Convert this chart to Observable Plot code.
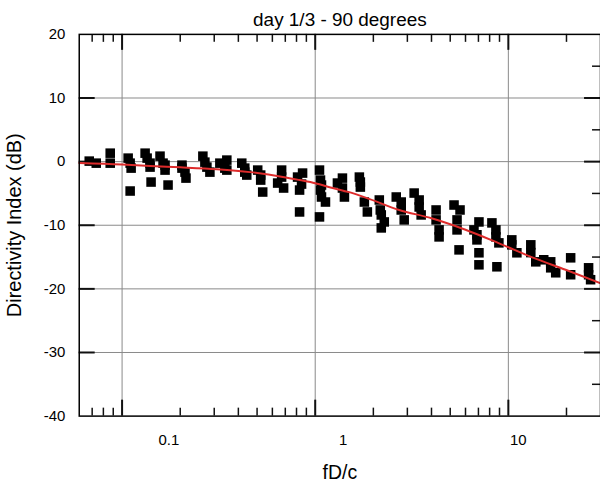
<!DOCTYPE html>
<html><head><meta charset="utf-8">
<script src="https://cdn.jsdelivr.net/npm/d3@7"></script>
<script src="https://cdn.jsdelivr.net/npm/@observablehq/plot@0.6"></script>
<style>html,body{margin:0;padding:0;overflow:hidden;background:#fff;width:600px;height:484px}</style>
</head><body><div id="chart"></div>
<script>
const title = "day 1/3 - 90 degrees";
const xLabel = "fD/c";
const yLabel = "Directivity Index (dB)";

// measured points: frequency (fD/c) and directivity index (dB)
const freq = [
  0.0676, 0.0735, 0.0868, 0.0868,
  0.1075, 0.1101, 0.1114, 0.1101,
  0.1316, 0.1348, 0.1396, 0.1413, 0.1396,
  0.1572, 0.163, 0.1669, 0.173, 0.1669,
  0.2042, 0.2117, 0.2142, 0.2042,
  0.262, 0.2684, 0.2749, 0.2849,
  0.3208, 0.3404, 0.3486, 0.3486,
  0.4166, 0.4317, 0.4421, 0.4317,
  0.5038, 0.5221, 0.5347, 0.5221,
  0.639, 0.67, 0.6861, 0.67,
  0.8102, 0.8498, 0.8601, 0.8299, 0.8299,
  1.0524, 1.065, 1.0777, 1.1301, 1.0524, 1.065, 1.0777,
  1.3033, 1.3834, 1.4166, 1.3834,
  1.6928, 1.7128, 1.7963, 1.862, 1.7128,
  2.147, 2.172, 2.278, 2.198, 2.198,
  2.628, 2.788, 2.889, 2.788,
  3.253, 3.453, 3.536, 3.453,
  4.225, 4.379, 4.379, 4.225,
  5.233, 5.621, 5.424, 5.555, 5.424,
  6.637, 6.877, 7.043, 7.043, 7.043, 6.877,
  8.221, 8.621, 8.933, 8.725, 8.621,
  10.42, 11.07, 10.42,
  13.07, 13.87, 13.07,
  15.25, 16.57, 17.59, 16.57,
  21.02, 21.02,
  26.03, 26.66, 26.03
];
const di = [
  0.08, -0.24, 1.33, -0.24,
  0.55, -0.24, -1.02, -4.62,
  1.33, 0.55, -0.24, -3.21, -0.86,
  0.86, -0.24, -1.33, -3.68, -0.55,
  -0.55, -1.65, -2.59, -1.02,
  0.86, -0.08, -0.86, -1.65,
  -0.24, -1.02, 0.24, -1.33,
  -0.24, -1.02, -2.11, -1.65,
  -1.33, -2.9, -4.78, -2.11,
  -3.37, -1.33, -4.15, -2.43,
  -2.43, -3.53, -1.8, -7.91, -4.47,
  -1.33, -4.47, -5.56, -6.35, -8.69, -2.9, -3.68,
  -3.37, -4.15, -5.56, -2.59,
  -2.43, -4.0, -6.35, -7.91, -3.21,
  -6.03, -7.6, -9.48, -10.42, -8.38,
  -5.56, -6.35, -9.16, -7.6,
  -4.94, -7.13, -8.38, -6.03,
  -7.6, -10.73, -11.83, -9.16,
  -6.82, -7.6, -10.73, -13.87, -9.16,
  -10.73, -12.3, -9.48, -14.33, -16.22, -11.5,
  -9.63, -10.73, -12.77, -16.53, -11.83,
  -13.08, -14.33, -12.3,
  -13.08, -15.75, -14.3,
  -15.43, -15.75, -17.47, -16.69,
  -15.12, -17.78,
  -16.69, -18.56, -17.78
];

// fitted trend (red curve)
const fitFreq = [0.06, 0.1, 0.14, 0.2, 0.31, 0.46, 0.68, 0.83, 1.0, 1.23, 1.5, 1.84, 2.72, 4.0, 6.0, 8.9, 13.2, 19.8, 30];
const fitDI   = [-0.2, -0.45, -0.7, -0.9, -1.2, -1.65, -2.4, -2.9, -3.4, -4.15, -4.8, -5.7, -7.6, -8.9, -10.7, -12.8, -15.0, -17.0, -19.1];

const xMajor = [0.1, 1, 10];
const xTickLabels = ["0.1", "1", "10"];
const xMinor = [0.07, 0.08, 0.09, 0.2, 0.3, 0.4, 0.5, 0.6, 0.7, 0.8, 0.9, 2, 3, 4, 5, 6, 7, 8, 9, 20];
const yTicks = [-40, -30, -20, -10, 0, 10, 20];
const yGrid = [-30, -20, -10, 0, 10];
const yMinor = [-35, -25, -15, -5, 5, 15];

const W = 602, H = 484, mt = 34, mb = 67, ml = 79, mr = 0;
const ph = H - mt - mb, pw = W - ml - mr;
const points = freq.map((f, i) => ({f, d: di[i]}));
const fit = fitFreq.map((f, i) => ({f, d: fitDI[i]}));
const font = "'Liberation Sans', Arial, Helvetica, sans-serif";
const labelShift = [47, 28, 10];
const tickColor = "#111";

const chart = Plot.plot({
  width: W, height: H,
  marginTop: mt, marginBottom: mb, marginLeft: ml, marginRight: mr,
  style: {fontFamily: font, background: "white", color: "black", overflow: "visible"},
  x: {type: "log", domain: [0.06, 30]},
  y: {domain: [-40, 20]},
  marks: [
    Plot.ruleX(xMajor, {stroke: "#8a8a8a", strokeWidth: 1}),
    Plot.ruleY(yGrid, {stroke: "#8a8a8a", strokeWidth: 1}),
    Plot.ruleX(xMajor, {insetTop: ph - 16, stroke: tickColor, strokeWidth: 2}),
    Plot.ruleX(xMajor, {insetBottom: ph - 16, stroke: tickColor, strokeWidth: 2}),
    Plot.ruleX(xMinor, {insetTop: ph - 8, stroke: tickColor, strokeWidth: 1.5}),
    Plot.ruleX(xMinor, {insetBottom: ph - 8, stroke: tickColor, strokeWidth: 1.5}),
    Plot.ruleY(yGrid, {insetRight: pw - 16, stroke: tickColor, strokeWidth: 2}),
    Plot.ruleY(yGrid, {insetLeft: pw - 16, stroke: tickColor, strokeWidth: 2}),
    Plot.ruleY(yMinor, {insetLeft: pw - 8, stroke: tickColor, strokeWidth: 1.5}),
    Plot.dot(points, {x: "f", y: "d", symbol: "square", r: 5.4, fill: "black", stroke: null}),
    Plot.line(fit, {x: "f", y: "d", stroke: "#dd2b2b", strokeWidth: 2, curve: "monotone-x"}),
    Plot.frame({stroke: "black", strokeWidth: 1.5}),
    Plot.axisY(yTicks, {anchor: "left", tickSize: 0, tickPadding: 14, fontSize: 15, label: null, tickFormat: d => String(d)}),
    ...xMajor.map((v, i) => Plot.axisX([v], {
      anchor: "bottom", tickSize: 0, tickPadding: 18, fontSize: 15, label: null,
      tickFormat: () => xTickLabels[i], dx: labelShift[i]
    })),
    Plot.text([title], {frameAnchor: "top", dy: -14, lineAnchor: "middle", fontSize: 19}),
    Plot.text([xLabel], {frameAnchor: "bottom", dy: 57, lineAnchor: "middle", fontSize: 19.5}),
    Plot.text([yLabel], {frameAnchor: "left", dx: -65, rotate: -90, textAnchor: "middle", lineAnchor: "middle", fontSize: 20})
  ]
});
document.getElementById("chart").appendChild(chart);
</script>
</body></html>
